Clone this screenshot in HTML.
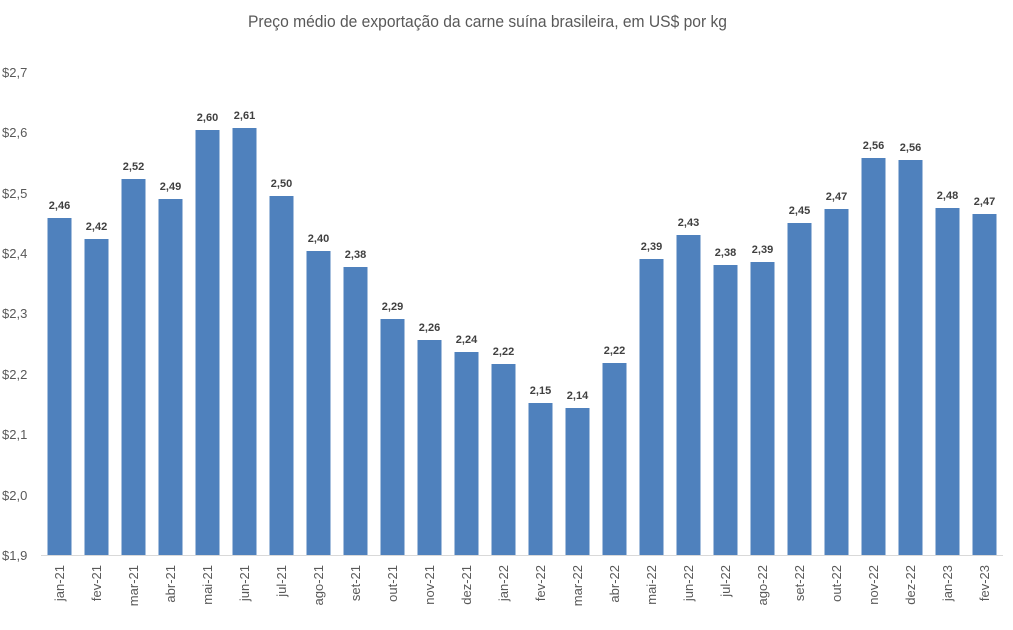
<!DOCTYPE html>
<html><head><meta charset="utf-8"><style>
html,body{margin:0;padding:0;background:#fff;}
svg{display:block;}
text{font-family:"Liberation Sans",sans-serif;}
</style></head><body>
<svg width="1013" height="630" viewBox="0 0 1013 630" xmlns="http://www.w3.org/2000/svg">
<rect width="1013" height="630" fill="#fff"/>
<text x="487.5" y="27" font-size="17" fill="#595959" text-anchor="middle" textLength="479" lengthAdjust="spacingAndGlyphs">Preço médio de exportação da carne suína brasileira, em US$ por kg</text>
<g font-size="13" fill="#595959">
<text x="2" y="77">$2,7</text>
<text x="2" y="137">$2,6</text>
<text x="2" y="198">$2,5</text>
<text x="2" y="258">$2,4</text>
<text x="2" y="318">$2,3</text>
<text x="2" y="379">$2,2</text>
<text x="2" y="439">$2,1</text>
<text x="2" y="500">$2,0</text>
<text x="2" y="560">$1,9</text>
</g>
<g fill="#4f81bd">
<rect x="47.5" y="218" width="24" height="337"/>
<rect x="84.5" y="239" width="24" height="316"/>
<rect x="121.5" y="179" width="24" height="376"/>
<rect x="158.5" y="199" width="24" height="356"/>
<rect x="195.5" y="130" width="24" height="425"/>
<rect x="232.5" y="128" width="24" height="427"/>
<rect x="269.5" y="196" width="24" height="359"/>
<rect x="306.5" y="251" width="24" height="304"/>
<rect x="343.5" y="267" width="24" height="288"/>
<rect x="380.5" y="319" width="24" height="236"/>
<rect x="417.5" y="340" width="24" height="215"/>
<rect x="454.5" y="352" width="24" height="203"/>
<rect x="491.5" y="364" width="24" height="191"/>
<rect x="528.5" y="403" width="24" height="152"/>
<rect x="565.5" y="408" width="24" height="147"/>
<rect x="602.5" y="363" width="24" height="192"/>
<rect x="639.5" y="259" width="24" height="296"/>
<rect x="676.5" y="235" width="24" height="320"/>
<rect x="713.5" y="265" width="24" height="290"/>
<rect x="750.5" y="262" width="24" height="293"/>
<rect x="787.5" y="223" width="24" height="332"/>
<rect x="824.5" y="209" width="24" height="346"/>
<rect x="861.5" y="158" width="24" height="397"/>
<rect x="898.5" y="160" width="24" height="395"/>
<rect x="935.5" y="208" width="24" height="347"/>
<rect x="972.5" y="214" width="24" height="341"/>
</g>
<line x1="41" y1="555.5" x2="1003" y2="555.5" stroke="#d9d9d9" stroke-width="1"/>
<g font-size="11" font-weight="bold" fill="#404040" text-anchor="middle">
<text x="59.5" y="209">2,46</text>
<text x="96.5" y="230">2,42</text>
<text x="133.5" y="170">2,52</text>
<text x="170.5" y="190">2,49</text>
<text x="207.5" y="121">2,60</text>
<text x="244.5" y="119">2,61</text>
<text x="281.5" y="187">2,50</text>
<text x="318.5" y="242">2,40</text>
<text x="355.5" y="258">2,38</text>
<text x="392.5" y="310">2,29</text>
<text x="429.5" y="331">2,26</text>
<text x="466.5" y="343">2,24</text>
<text x="503.5" y="355">2,22</text>
<text x="540.5" y="394">2,15</text>
<text x="577.5" y="399">2,14</text>
<text x="614.5" y="354">2,22</text>
<text x="651.5" y="250">2,39</text>
<text x="688.5" y="226">2,43</text>
<text x="725.5" y="256">2,38</text>
<text x="762.5" y="253">2,39</text>
<text x="799.5" y="214">2,45</text>
<text x="836.5" y="200">2,47</text>
<text x="873.5" y="149">2,56</text>
<text x="910.5" y="151">2,56</text>
<text x="947.5" y="199">2,48</text>
<text x="984.5" y="205">2,47</text>
</g>
<g font-size="13" fill="#595959" text-anchor="end">
<text transform="translate(64,565) rotate(-90)">jan-21</text>
<text transform="translate(101,565) rotate(-90)">fev-21</text>
<text transform="translate(138,565) rotate(-90)">mar-21</text>
<text transform="translate(175,565) rotate(-90)">abr-21</text>
<text transform="translate(212,565) rotate(-90)">mai-21</text>
<text transform="translate(249,565) rotate(-90)">jun-21</text>
<text transform="translate(286,565) rotate(-90)">jul-21</text>
<text transform="translate(323,565) rotate(-90)">ago-21</text>
<text transform="translate(360,565) rotate(-90)">set-21</text>
<text transform="translate(397,565) rotate(-90)">out-21</text>
<text transform="translate(434,565) rotate(-90)">nov-21</text>
<text transform="translate(471,565) rotate(-90)">dez-21</text>
<text transform="translate(508,565) rotate(-90)">jan-22</text>
<text transform="translate(545,565) rotate(-90)">fev-22</text>
<text transform="translate(582,565) rotate(-90)">mar-22</text>
<text transform="translate(619,565) rotate(-90)">abr-22</text>
<text transform="translate(656,565) rotate(-90)">mai-22</text>
<text transform="translate(693,565) rotate(-90)">jun-22</text>
<text transform="translate(730,565) rotate(-90)">jul-22</text>
<text transform="translate(767,565) rotate(-90)">ago-22</text>
<text transform="translate(804,565) rotate(-90)">set-22</text>
<text transform="translate(841,565) rotate(-90)">out-22</text>
<text transform="translate(878,565) rotate(-90)">nov-22</text>
<text transform="translate(915,565) rotate(-90)">dez-22</text>
<text transform="translate(952,565) rotate(-90)">jan-23</text>
<text transform="translate(989,565) rotate(-90)">fev-23</text>
</g>
</svg>
</body></html>
